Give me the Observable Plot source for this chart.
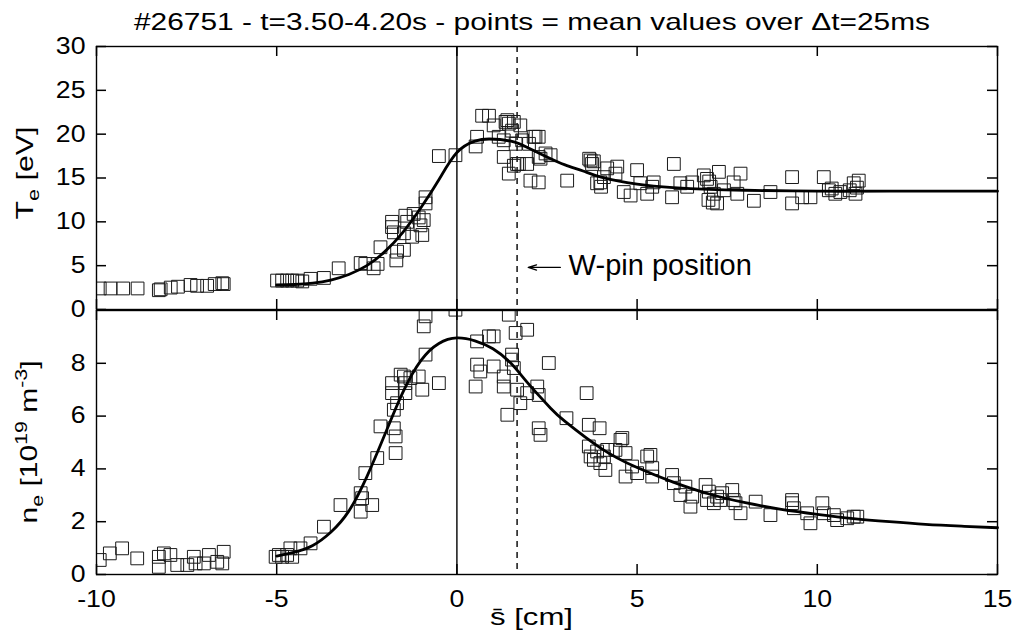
<!DOCTYPE html>
<html><head><meta charset="utf-8">
<script src="https://cdn.jsdelivr.net/npm/d3@7"></script>
<script src="https://cdn.jsdelivr.net/npm/@observablehq/plot@0.6"></script>
<style>
body{margin:0;background:#fff;}
#wrap{position:relative;width:1016px;height:642px;overflow:hidden;}
#wrap svg{position:absolute;left:0;}
</style></head><body><div id="wrap"></div>
<script>
// ---- data ----
const titleText = "#26751 - t=3.50-4.20s - points = mean values over \u0394t=25ms";
const xTicks = [-10, -5, 0, 5, 10, 15];
const teTicks = [0, 5, 10, 15, 20, 25, 30];
const neTicks = [0, 2, 4, 6, 8];
const xDomain = [-10, 15];
const teDomain = [0, 30];
const neDomain = [0, 10];
const separatrixX = 0;
const wpinX = 1.67;

// Te scatter (mean values)
const teX = [-9.91,-9.61,-9.26,-8.86,-8.27,-8.22,-7.94,-7.74,-7.39,-7.21,-6.93,-6.72,-6.51,-6.47,
  -4.99,-4.85,-4.71,-4.57,-4.43,-4.29,-4.06,-3.69,-3.28,
  -2.67,-2.54,-2.31,-2.20,-2.12,
  -1.80,-1.80,-1.75,-1.66,-1.68,-1.47,-1.43,-1.38,-1.24,-1.20,-1.06,-0.96,-0.92,-0.87,-0.87,-1.01,-1.47,
  -0.50,-0.04,0.52,0.56,0.70,0.89,
  1.02,1.16,1.30,1.35,1.40,1.44,1.53,1.76,1.81,1.30,1.44,1.58,1.67,1.95,2.04,2.13,2.27,2.32,2.46,
  1.58,1.63,2.00,2.18,1.72,2.27,2.60,2.27,3.06,
  3.67,3.71,3.75,3.89,3.98,4.08,4.17,4.45,4.40,4.63,4.82,5.00,5.09,5.28,5.42,5.46,6.02,3.80,4.00,
  5.97,6.20,6.39,6.53,6.85,6.94,7.04,7.13,7.22,7.27,7.41,7.68,7.78,7.87,8.24,8.70,9.30,9.30,9.58,9.81,10.18,10.32,10.50,10.64,11.01,11.06,11.15,
  6.98,7.10,7.00,10.40,10.90,11.10];
const teY = [2.4,2.4,2.4,2.4,2.2,2.3,2.5,2.6,2.8,2.7,2.7,2.9,3.0,2.9,
  3.3,3.3,3.3,3.3,3.3,3.2,3.5,3.6,4.7,
  5.3,5.2,4.7,5.2,7.1,
  9.4,10.0,8.8,6.6,5.6,6.8,10.7,10.0,8.3,10.9,10.5,8.5,10.2,12.8,12.1,9.6,8.7,
  17.5,17.6,18.6,19.7,22.1,22.1,
  21.0,19.7,19.3,21.4,21.6,21.2,20.4,21.0,19.3,17.4,15.5,16.4,16.6,16.6,14.7,19.7,19.7,17.2,17.8,
  21.4,18.9,18.9,19.7,16.6,17.4,17.6,14.5,14.7,
  17.2,17.0,16.6,14.4,14.5,15.1,16.1,16.3,15.5,13.4,13.0,15.9,14.4,13.2,14.0,14.5,16.6,16.9,14.0,
  12.8,14.4,14.0,14.5,15.3,14.9,14.0,13.2,12.1,15.7,13.6,14.5,13.2,15.5,12.4,13.4,15.1,12.1,12.8,12.8,15.1,13.6,13.2,13.4,14.4,13.2,14.7,
  12.5,12.2,14.6,13.8,13.6,13.9];

// Te fit curve
const teFitX = [-5,-4.5,-4,-3.5,-3,-2.5,-2,-1.5,-1,-0.5,0,0.5,0.9,1.5,2,2.5,3,3.5,4,5,6,7,8,10,12,15];
const teFitY = [2.8,2.85,3.0,3.35,4.0,5.0,6.6,8.8,11.6,14.8,17.9,19.2,19.45,19.2,18.4,17.4,16.5,15.8,15.1,14.3,13.9,13.7,13.6,13.5,13.5,13.5];

// ne scatter (mean values)
const neX = [-9.91,-9.63,-9.29,-8.87,-8.27,-8.27,-8.13,-7.95,-7.76,-7.48,-7.30,-7.25,-7.02,-6.88,-6.65,-6.51,-6.47,
  -5.03,-4.94,-4.85,-4.71,-4.62,-4.57,-4.34,-4.06,-3.69,-3.23,-2.67,-2.67,-2.63,-2.35,-2.54,-2.21,-2.12,-1.75,-1.70,-1.70,
  -1.80,-1.80,-1.75,-1.66,-1.56,-1.47,-1.43,-1.43,-1.29,-1.06,-0.96,-0.50,-0.87,-0.92,-0.87,-0.04,
  0.56,0.89,1.02,0.56,0.65,0.52,1.02,1.30,1.30,1.44,1.63,1.95,1.53,1.53,1.58,1.40,1.67,1.76,1.95,2.23,2.27,2.27,2.32,2.55,3.60,3.04,3.66,3.96,
  3.66,3.71,3.80,3.89,3.98,4.08,4.12,4.17,4.40,4.54,4.59,4.68,4.68,4.86,5.00,5.28,5.37,5.42,5.42,
  5.97,6.02,6.20,6.34,6.48,6.53,6.90,6.94,6.99,7.13,7.22,7.31,7.36,7.64,7.68,7.73,7.87,8.29,8.70,9.30,9.30,9.35,9.72,9.81,10.14,10.18,10.46,10.55,10.83,11.01,11.11];
const neY = [0.55,0.80,0.99,0.61,0.67,0.29,0.80,0.74,0.36,0.36,0.67,0.42,0.42,0.74,0.48,0.42,0.86,
  0.67,0.74,0.67,0.74,0.99,0.67,0.99,1.18,1.81,2.63,3.08,2.38,2.89,2.63,3.84,4.41,5.61,5.54,5.23,4.60,
  7.25,6.87,6.24,6.49,7.57,7.50,7.25,6.87,7.44,7.50,7.00,7.25,8.33,9.40,9.78,10.03,
  8.83,9.02,9.02,7.95,7.69,7.12,7.88,7.50,7.12,9.84,9.15,9.27,8.33,8.14,7.82,6.05,7.00,6.49,6.87,7.12,6.80,5.54,5.29,8.01,6.87,5.92,5.67,5.54,
  4.85,4.47,4.34,4.66,4.22,4.47,3.96,4.72,4.72,5.10,5.17,4.60,3.71,4.09,3.84,4.47,4.53,3.71,4.03,
  3.77,3.46,3.01,3.33,2.57,2.95,3.39,2.82,3.14,2.70,2.95,2.82,3.08,3.20,2.82,2.70,2.32,2.76,2.25,2.82,2.70,2.51,2.32,1.94,2.70,2.32,2.25,2.06,2.13,2.19,2.19];

// ne fit curve
const neFitX = [-5,-4.5,-4,-3.5,-3,-2.5,-2,-1.5,-1,-0.5,0,0.5,1,1.5,2,2.6,3,4,5,6,7,8,9,10,11,12,13,14,15];
const neFitY = [0.7,0.85,1.1,1.6,2.4,3.7,5.3,6.9,8.1,8.75,8.96,8.85,8.55,8.0,7.2,6.3,5.8,4.78,4.05,3.5,3.05,2.72,2.47,2.28,2.12,2.0,1.9,1.83,1.77];

// ---- build tables ----
const te = teX.map((x, i) => ({x, y: teY[i]}));
const teFit = teFitX.map((x, i) => ({x, y: teFitY[i]}));
const ne = neX.map((x, i) => ({x, y: neY[i]}));
const neFit = neFitX.map((x, i) => ({x, y: neFitY[i]}));

const FONT = '"Liberation Sans", Arial, Helvetica, sans-serif';
const W = 1016, mL = 96, mR = 19;
const plotW = W - mL - mR;
const H1 = 312, mT1 = 46, mB1 = 3, frameH1 = H1 - mT1 - mB1;
const H2 = 333, mT2 = 1, mB2 = 68, frameH2 = H2 - mT2 - mB2;
const TL = 10; // inward tick length (px)
const LW = 1.4;
const baseStyle = {fontFamily: FONT, fontSize: "23px", background: "transparent", overflow: "visible", color: "black"};
const fmt = d => String(d);

// inward ticks on all four sides; tick length converted from pixels to data units
function panelTicks(yTicks, yDomain, frameH) {
  const [x0, x1] = xDomain, [y0, y1] = yDomain;
  const dyLen = TL * (y1 - y0) / frameH;
  const dxLen = TL * (x1 - x0) / plotW;
  const s = {stroke: "black", strokeWidth: 1.5};
  return [
    Plot.ruleX(xTicks, {x: d => d, y1: () => y0, y2: () => y0 + dyLen, ...s}),
    Plot.ruleX(xTicks, {x: d => d, y1: () => y1 - dyLen, y2: () => y1, ...s}),
    Plot.ruleY(yTicks, {y: d => d, x1: () => x0, x2: () => x0 + dxLen, ...s}),
    Plot.ruleY(yTicks, {y: d => d, x1: () => x1 - dxLen, x2: () => x1, ...s})
  ];
}

const topPlot = Plot.plot({
  width: W, height: H1, marginTop: mT1, marginBottom: mB1, marginLeft: mL, marginRight: mR,
  style: baseStyle,
  x: {domain: xDomain, axis: null},
  y: {domain: teDomain},
  marks: [
    Plot.ruleX([separatrixX], {x: d => d, stroke: "black", strokeWidth: LW}),
    Plot.ruleX([wpinX], {x: d => d, stroke: "black", strokeWidth: LW, strokeDasharray: "6,5"}),
    Plot.dot(te, {x: "x", y: "y", symbol: "square", r: 7.2, fill: "none", stroke: "#1a1a1a", strokeWidth: 1, clip: true}),
    Plot.line(teFit, {x: "x", y: "y", curve: "natural", stroke: "black", strokeWidth: 2.8}),
    Plot.arrow([wpinX], {x1: 2.87, x2: 1.98, y1: 4.8, y2: 4.8, stroke: "black", strokeWidth: 1.3, headLength: 10, headAngle: 35}),
    Plot.text(["W-pin position"], {x: 3.1, y: 5.0, text: d => d, textAnchor: "start", fontSize: 29, fill: "black"}),
    ...panelTicks(teTicks, teDomain, frameH1),
    Plot.axisY(teTicks, {tickSize: 0, tickPadding: 11, label: null, tickFormat: fmt}),
    Plot.frame({stroke: "black", strokeWidth: LW})
  ]
});

const botPlot = Plot.plot({
  width: W, height: H2, marginTop: mT2, marginBottom: mB2, marginLeft: mL, marginRight: mR,
  style: baseStyle,
  x: {domain: xDomain},
  y: {domain: neDomain},
  marks: [
    Plot.ruleX([separatrixX], {x: d => d, stroke: "black", strokeWidth: LW}),
    Plot.ruleX([wpinX], {x: d => d, stroke: "black", strokeWidth: LW, strokeDasharray: "6,5"}),
    Plot.dot(ne, {x: "x", y: "y", symbol: "square", r: 7.2, fill: "none", stroke: "#1a1a1a", strokeWidth: 1, clip: true}),
    Plot.line(neFit, {x: "x", y: "y", curve: "natural", stroke: "black", strokeWidth: 2.8}),
    ...panelTicks(neTicks, neDomain, frameH2),
    Plot.axisY(neTicks, {tickSize: 0, tickPadding: 11, label: null, tickFormat: fmt}),
    Plot.axisX(xTicks, {tickSize: 0, tickPadding: 16, label: null, tickFormat: fmt}),
    Plot.frame({stroke: "black", strokeWidth: LW})
  ]
});

const wrap = document.getElementById("wrap");
topPlot.style.top = "0px";
botPlot.style.top = (H1 - 3) + "px";
wrap.appendChild(topPlot);
wrap.appendChild(botPlot);

// stretch tick labels horizontally like the reference lettering
for (const el of wrap.querySelectorAll('[aria-label$="tick label"] text')) {
  const w = el.getComputedTextLength();
  el.setAttribute("textLength", (w * 1.16).toFixed(1));
  el.setAttribute("lengthAdjust", "spacingAndGlyphs");
}

// overlay: title and axis labels
const ov = d3.select(wrap).append("svg")
  .attr("width", W).attr("height", 642)
  .style("top", "0px").style("pointer-events", "none")
  .attr("font-family", FONT).attr("fill", "black");

ov.append("text").attr("x", 134).attr("y", 30).attr("font-size", 24)
  .attr("textLength", 796).attr("lengthAdjust", "spacingAndGlyphs").text(titleText);

const tl = ov.append("text").attr("transform", "translate(33,173) rotate(-90)")
  .attr("text-anchor", "middle").attr("font-size", 24)
  .attr("textLength", 93).attr("lengthAdjust", "spacingAndGlyphs");
tl.append("tspan").text("T");
tl.append("tspan").attr("font-size", 17).attr("dy", 6).text("e");
tl.append("tspan").attr("dy", -6).text(" [eV]");

const nl = ov.append("text").attr("transform", "translate(37,442) rotate(-90)")
  .attr("text-anchor", "middle").attr("font-size", 24)
  .attr("textLength", 163).attr("lengthAdjust", "spacingAndGlyphs");
nl.append("tspan").text("n");
nl.append("tspan").attr("font-size", 17).attr("dy", 6).text("e");
nl.append("tspan").attr("dy", -6).text(" [10");
nl.append("tspan").attr("font-size", 17).attr("dy", -10).text("19");
nl.append("tspan").attr("dy", 10).text(" m");
nl.append("tspan").attr("font-size", 17).attr("dy", -10).text("-3");
nl.append("tspan").attr("dy", 10).text("]");

const xl = ov.append("text").attr("x", 490).attr("y", 625).attr("font-size", 24)
  .attr("textLength", 83).attr("lengthAdjust", "spacingAndGlyphs");
xl.append("tspan").text("s\u0304");
xl.append("tspan").text(" [cm]");
</script>
</body></html>
